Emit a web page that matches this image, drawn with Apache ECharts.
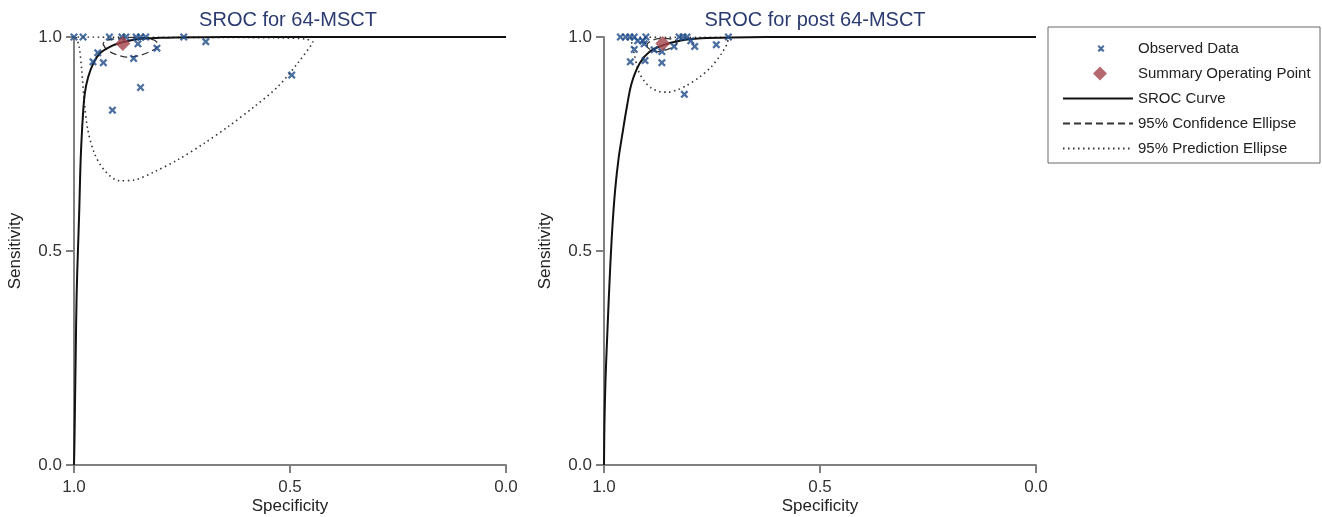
<!DOCTYPE html>
<html>
<head>
<meta charset="utf-8">
<script src="https://cdn.jsdelivr.net/npm/echarts@6/dist/echarts.min.js"></script>
<style>
  html, body { margin: 0; padding: 0; background: #fff; }
  #chart-container { width: 1322px; height: 517px; }
</style>
</head>
<body>
<div id="chart-container"></div>
<script>
// values as [specificity, sensitivity]
const titles = ['SROC for 64-MSCT', 'SROC for post 64-MSCT'];
const tickLabels = ['0.0', '0.5', '1.0'];
const legendNames = ['Observed Data', 'Summary Operating Point', 'SROC Curve',
  '95% Confidence Ellipse', '95% Prediction Ellipse'];

const obsLeft = [
  [1.0, 1.0], [0.979, 1.0], [0.918, 1.0], [0.889, 1.0], [0.880, 1.0],
  [0.856, 1.0], [0.846, 1.0], [0.834, 1.0], [0.746, 1.0], [0.695, 0.989],
  [0.945, 0.963], [0.956, 0.942], [0.932, 0.940], [0.852, 0.984],
  [0.808, 0.974], [0.862, 0.950], [0.846, 0.882], [0.911, 0.829], [0.496, 0.911]
];
const obsRight = [
  [0.962, 1.0], [0.950, 1.0], [0.940, 1.0], [0.930, 1.0], [0.903, 1.0],
  [0.922, 0.991], [0.910, 0.991], [0.907, 0.984], [0.930, 0.971],
  [0.939, 0.942], [0.905, 0.945], [0.866, 0.940], [0.884, 0.970],
  [0.866, 0.966], [0.838, 0.978], [0.826, 1.0], [0.817, 1.0], [0.808, 1.0],
  [0.799, 0.991], [0.790, 0.978], [0.740, 0.982], [0.712, 1.0], [0.814, 0.866]
];
const summaryLeft = [[0.887, 0.985]];
const summaryRight = [[0.864, 0.985]];

const srocLeft = [
  [1.0, 0.0], [0.999, 0.05], [0.998, 0.121], [0.996, 0.262], [0.994, 0.393],
  [0.991, 0.498], [0.988, 0.589], [0.986, 0.666], [0.984, 0.728], [0.980, 0.806],
  [0.975, 0.868], [0.967, 0.907], [0.955, 0.939], [0.940, 0.962], [0.917, 0.977],
  [0.890, 0.987], [0.855, 0.995], [0.800, 0.998], [0.700, 0.9995], [0.600, 1.0], [0.0, 1.0]
];
const srocRight = [
  [1.0, 0.0], [0.999, 0.093], [0.9965, 0.199], [0.992, 0.315], [0.987, 0.432],
  [0.981, 0.549], [0.974, 0.645], [0.966, 0.718], [0.958, 0.770], [0.947, 0.837],
  [0.936, 0.892], [0.917, 0.939], [0.894, 0.966], [0.863, 0.981], [0.822, 0.992],
  [0.775, 0.997], [0.706, 0.999], [0.544, 1.0], [0.0, 1.0]
];
const confLeft = [
  [0.933, 0.984], [0.924, 0.970], [0.905, 0.960], [0.877, 0.953], [0.850, 0.956],
  [0.826, 0.965], [0.810, 0.974], [0.806, 0.984], [0.815, 0.993], [0.838, 0.998],
  [0.873, 0.999], [0.910, 0.995], [0.928, 0.991], [0.933, 0.984]
];
const confRight = [
  [0.900, 0.984], [0.900, 0.977], [0.891, 0.970], [0.875, 0.966], [0.856, 0.970],
  [0.840, 0.977], [0.831, 0.986], [0.836, 0.993], [0.852, 0.996], [0.873, 0.996],
  [0.891, 0.991], [0.900, 0.984]
];
const predLeft = [
  [0.995, 1.0], [0.988, 0.977], [0.982, 0.921], [0.976, 0.846], [0.968, 0.783],
  [0.953, 0.729], [0.930, 0.689], [0.895, 0.664], [0.860, 0.666], [0.814, 0.685],
  [0.760, 0.713], [0.698, 0.752], [0.644, 0.790], [0.583, 0.837], [0.528, 0.884],
  [0.482, 0.939], [0.451, 0.981], [0.447, 0.988], [0.463, 0.995], [0.528, 0.998],
  [0.699, 0.999], [0.850, 0.9995], [0.995, 1.0]
];
const predRight = [
  [0.9375, 1.0], [0.935, 0.981], [0.931, 0.965], [0.921, 0.923], [0.907, 0.897],
  [0.891, 0.881], [0.873, 0.873], [0.852, 0.871], [0.831, 0.876], [0.810, 0.886],
  [0.782, 0.904], [0.752, 0.930], [0.729, 0.960], [0.715, 0.984], [0.713, 0.995],
  [0.722, 0.999], [0.780, 0.9995], [0.850, 0.9995], [0.9375, 1.0]
];

const FONT = '"Liberation Sans", Arial, sans-serif';
const crossIcon = 'path://M0,2L2,0L5,3L8,0L10,2L7,5L10,8L8,10L5,7L2,10L0,8L3,5Z';
// legend icons drawn in a 70x14 box (tiny corner triangles fix the box size)
const boxCorners = 'M0,0L0.01,0L0,0.01Z M70,14L69.99,14L70,13.99Z ';
const crossLegend = 'path://' + boxCorners +
  'M34.5,4.9L35.9,3.5L38,5.6L40.1,3.5L41.5,4.9L39.4,7L41.5,9.1L40.1,10.5L38,8.9L35.9,10.5L34.5,9.1L36.6,7Z';
const diamondLegend = 'path://' + boxCorners + 'M37,0L44,7L37,14L30,7Z';
const blue = '#1d4a87';
const red = '#a3434a';
const axisGrey = '#808080';

const makeX = (i) => ({
  gridIndex: i, type: 'value', min: 0, max: 1, interval: 0.5, inverse: true,
  name: 'Specificity', nameLocation: 'middle', nameGap: 33, nameMoveOverlap: false,
  nameTextStyle: { fontFamily: FONT, fontSize: 17, color: '#222' },
  axisLine: { onZero: false, lineStyle: { color: axisGrey, width: 2 } },
  axisTick: { length: 8, lineStyle: { color: axisGrey, width: 2 } },
  axisLabel: { fontFamily: FONT, fontSize: 17, color: '#333', margin: 14,
    formatter: v => tickLabels[Math.round(v * 2)] },
  splitLine: { show: false }
});
const makeY = (i) => ({
  gridIndex: i, type: 'value', min: 0, max: 1, interval: 0.5,
  name: 'Sensitivity', nameLocation: 'middle', nameGap: 50, nameMoveOverlap: false,
  nameTextStyle: { fontFamily: FONT, fontSize: 17, color: '#222' },
  axisLine: { onZero: false, lineStyle: { color: axisGrey, width: 2 } },
  axisTick: { length: 8, lineStyle: { color: axisGrey, width: 2 } },
  axisLabel: { fontFamily: FONT, fontSize: 17, color: '#333', margin: 12,
    formatter: v => tickLabels[Math.round(v * 2)] },
  splitLine: { show: false }
});

const plotSeries = (i, obs, summary, sroc, conf, pred) => [
  {
    name: legendNames[4], type: 'line', xAxisIndex: i, yAxisIndex: i,
    data: pred, symbol: 'none', smooth: 0.3,
    itemStyle: { color: '#333' },
    lineStyle: { color: '#333', width: 1.6, type: [1.5, 3.5] }, z: 2
  },
  {
    name: legendNames[3], type: 'line', xAxisIndex: i, yAxisIndex: i,
    data: conf, symbol: 'none', smooth: 0.3,
    itemStyle: { color: '#333' },
    lineStyle: { color: '#333', width: 1.3, type: [7, 4] }, z: 3
  },
  {
    name: legendNames[2], type: 'line', xAxisIndex: i, yAxisIndex: i,
    data: sroc, symbol: 'none', smooth: 0.35,
    itemStyle: { color: '#111' },
    lineStyle: { color: '#111', width: 2 }, z: 4
  },
  {
    name: legendNames[0], type: 'scatter', xAxisIndex: i, yAxisIndex: i,
    data: obs, symbol: crossIcon, symbolSize: 8,
    itemStyle: { color: blue }, z: 5
  },
  {
    name: legendNames[1], type: 'scatter', xAxisIndex: i, yAxisIndex: i,
    data: summary, symbol: 'diamond', symbolSize: [15, 15],
    itemStyle: { color: red }, z: 6
  }
];

const myChart = echarts.init(document.getElementById('chart-container'));
const option = {
  animation: false,
  backgroundColor: '#fff',
  title: [
    { text: titles[0], left: 283, top: 5, textAlign: 'center',
      textStyle: { fontFamily: FONT, fontSize: 20, fontWeight: 'normal', color: '#2b3b70' } },
    { text: titles[1], left: 810, top: 5, textAlign: 'center',
      textStyle: { fontFamily: FONT, fontSize: 20, fontWeight: 'normal', color: '#2b3b70' } }
  ],
  grid: [
    { left: 74, top: 37, width: 432, height: 428, outerBoundsMode: 'none', containLabel: false },
    { left: 604, top: 37, width: 432, height: 428, outerBoundsMode: 'none', containLabel: false }
  ],
  xAxis: [makeX(0), makeX(1)],
  yAxis: [makeY(0), makeY(1)],
  legend: {
    orient: 'vertical', left: 1057, top: 36, itemGap: 10,
    itemWidth: 70, itemHeight: 14, symbolKeepAspect: false, selectedMode: false,
    textStyle: { fontFamily: FONT, fontSize: 15, color: '#222' },
    data: [
      { name: legendNames[0], icon: crossLegend, itemStyle: { color: blue } },
      { name: legendNames[1], icon: diamondLegend, itemStyle: { color: red } },
      { name: legendNames[2], itemStyle: { opacity: 0 } },
      { name: legendNames[3], itemStyle: { opacity: 0 } },
      { name: legendNames[4], itemStyle: { opacity: 0 } }
    ]
  },
  graphic: [
    { type: 'rect', shape: { x: 1048, y: 27, width: 272, height: 136 },
      style: { fill: 'none', stroke: '#666', lineWidth: 1 }, silent: true }
  ],
  series: [
    ...plotSeries(0, obsLeft, summaryLeft, srocLeft, confLeft, predLeft),
    ...plotSeries(1, obsRight, summaryRight, srocRight, confRight, predRight)
  ]
};
myChart.setOption(option);
</script>
</body>
</html>
